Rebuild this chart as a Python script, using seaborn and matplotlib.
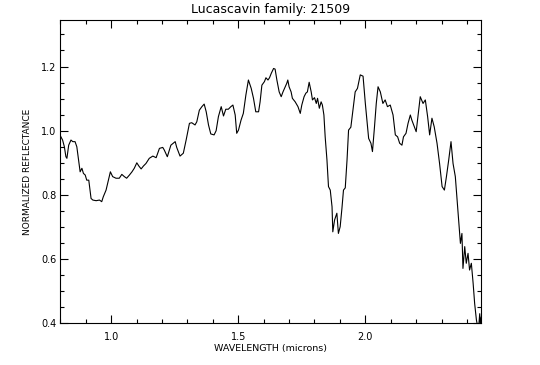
import matplotlib
matplotlib.use("Agg")
import matplotlib.pyplot as plt
import pandas as pd
import seaborn as sns
from matplotlib.ticker import MultipleLocator

# Spectrum (wavelength in microns, normalized reflectance)
wavelength = [
    0.801, 0.809, 0.816, 0.822, 0.826, 0.833, 0.842, 0.849, 0.858, 0.865,
    0.872, 0.878, 0.885, 0.891, 0.898, 0.904, 0.912, 0.917, 0.921, 0.928,
    0.941, 0.954, 0.963, 0.969, 0.980, 0.991, 0.997, 1.006, 1.019, 1.032,
    1.042, 1.052, 1.061, 1.072, 1.082, 1.091, 1.101, 1.109, 1.118, 1.127,
    1.137, 1.150, 1.164, 1.177, 1.190, 1.203, 1.209, 1.221, 1.235, 1.252,
    1.258, 1.271, 1.284, 1.295, 1.308, 1.317, 1.330, 1.337, 1.347, 1.357,
    1.366, 1.374, 1.383, 1.392, 1.405, 1.413, 1.422, 1.433, 1.442, 1.451,
    1.461, 1.471, 1.479, 1.488, 1.494, 1.501, 1.511, 1.520, 1.530, 1.540,
    1.551, 1.560, 1.569, 1.580, 1.586, 1.593, 1.603, 1.609, 1.617, 1.623,
    1.630, 1.639, 1.645, 1.652, 1.661, 1.669, 1.676, 1.685, 1.691, 1.695,
    1.700, 1.708, 1.713, 1.724, 1.735, 1.744, 1.750, 1.759, 1.766, 1.772,
    1.779, 1.787, 1.792, 1.800, 1.807, 1.812, 1.819, 1.826, 1.831, 1.837,
    1.842, 1.849, 1.855, 1.862, 1.869, 1.872, 1.879, 1.888, 1.894, 1.901,
    1.908, 1.914, 1.921, 1.928, 1.934, 1.943, 1.951, 1.960, 1.969, 1.980,
    1.991, 2.000, 2.013, 2.022, 2.028, 2.036, 2.043, 2.050, 2.059, 2.069,
    2.078, 2.087, 2.098, 2.109, 2.118, 2.127, 2.135, 2.144, 2.150, 2.160,
    2.168, 2.177, 2.183, 2.193, 2.200, 2.207, 2.216, 2.227, 2.236, 2.245,
    2.253, 2.262, 2.271, 2.282, 2.292, 2.302, 2.311, 2.319, 2.328, 2.337,
    2.345, 2.354, 2.361, 2.367, 2.374, 2.380, 2.384, 2.391, 2.397, 2.404,
    2.410, 2.417, 2.424, 2.430, 2.437, 2.443, 2.447, 2.450, 2.453, 2.456,
]
reflectance = [
    0.983, 0.971, 0.950, 0.919, 0.914, 0.955, 0.971, 0.966, 0.966, 0.950,
    0.909, 0.872, 0.883, 0.867, 0.862, 0.846, 0.846, 0.815, 0.789, 0.784,
    0.782, 0.784, 0.779, 0.794, 0.815, 0.852, 0.872, 0.857, 0.852, 0.852,
    0.864, 0.857, 0.852, 0.862, 0.872, 0.883, 0.900, 0.890, 0.881, 0.890,
    0.898, 0.914, 0.921, 0.916, 0.945, 0.948, 0.940, 0.919, 0.955, 0.966,
    0.948, 0.921, 0.930, 0.971, 1.023, 1.025, 1.018, 1.028, 1.064, 1.075,
    1.083, 1.059, 1.018, 0.990, 0.987, 1.000, 1.044, 1.075, 1.046, 1.067,
    1.067, 1.075, 1.080, 1.049, 0.992, 1.002, 1.033, 1.054, 1.111, 1.158,
    1.132, 1.101, 1.059, 1.059, 1.090, 1.142, 1.153, 1.165, 1.158, 1.165,
    1.179, 1.194, 1.192, 1.158, 1.121, 1.106, 1.121, 1.137, 1.148, 1.158,
    1.137, 1.121, 1.101, 1.090, 1.075, 1.054, 1.080, 1.106, 1.117, 1.121,
    1.151, 1.121, 1.096, 1.103, 1.085, 1.101, 1.070, 1.090, 1.080, 1.049,
    0.981, 0.909, 0.826, 0.815, 0.763, 0.685, 0.722, 0.743, 0.680, 0.701,
    0.759, 0.815, 0.822, 0.909, 1.002, 1.011, 1.064, 1.121, 1.132, 1.174,
    1.170, 1.085, 0.976, 0.961, 0.935, 1.012, 1.085, 1.137, 1.121, 1.085,
    1.096, 1.075, 1.080, 1.049, 0.987, 0.981, 0.961, 0.955, 0.981, 0.992,
    1.023, 1.049, 1.033, 1.012, 0.997, 1.044, 1.106, 1.085, 1.096, 1.044,
    0.987, 1.039, 1.012, 0.961, 0.898, 0.826, 0.815, 0.857, 0.909, 0.966,
    0.898, 0.857, 0.784, 0.722, 0.649, 0.680, 0.571, 0.639, 0.587, 0.618,
    0.566, 0.587, 0.525, 0.462, 0.410, 0.385, 0.400, 0.430, 0.390, 0.420,
]

df = pd.DataFrame({"wavelength": wavelength, "reflectance": reflectance})

sns.set_theme(style="ticks")
plt.rcParams["font.family"] = ["DejaVu Sans"]
plt.rcParams["text.color"] = "black"
plt.rcParams["axes.labelcolor"] = "black"
plt.rcParams["xtick.color"] = "black"
plt.rcParams["ytick.color"] = "black"

fig = plt.figure(figsize=(5.4, 3.65), dpi=100)
ax = fig.add_axes([60.3 / 540, 1 - 323.3 / 365, (481 - 60.3) / 540, (323.3 - 20) / 365])

sns.lineplot(data=df, x="wavelength", y="reflectance", ax=ax,
             color="black", linewidth=0.8)

ax.set_xlim(0.8, 2.455)
ax.set_ylim(0.4, 1.345)
ax.xaxis.set_major_locator(MultipleLocator(0.5))
ax.xaxis.set_minor_locator(MultipleLocator(0.1))
ax.yaxis.set_minor_locator(MultipleLocator(0.05))
ax.set_yticks([0.4, 0.6, 0.8, 1.0, 1.2])
ax.set_yticklabels(["0.4", "0.6", "0.8", "1.0", "1.2"])

ax.tick_params(which="both", direction="in", top=True, right=True,
               color="black", labelcolor="black", width=0.8, labelsize=7)
ax.tick_params(which="major", length=5.5)
ax.tick_params(which="minor", length=3)
ax.tick_params(axis="x", which="major", pad=6)
ax.tick_params(axis="y", which="major", pad=3)
for side in ax.spines.values():
    side.set_color("black")
    side.set_linewidth(0.8)

ax.set_title("Lucascavin family: 21509", fontsize=9, pad=5, color="black")
ax.set_xlabel("WAVELENGTH (microns)", fontsize=6.8, labelpad=2, color="black")
ax.set_ylabel("NORMALIZED REFLECTANCE", fontsize=6.5, labelpad=6, color="black")

fig.savefig("out.png", dpi=100, facecolor="white")
